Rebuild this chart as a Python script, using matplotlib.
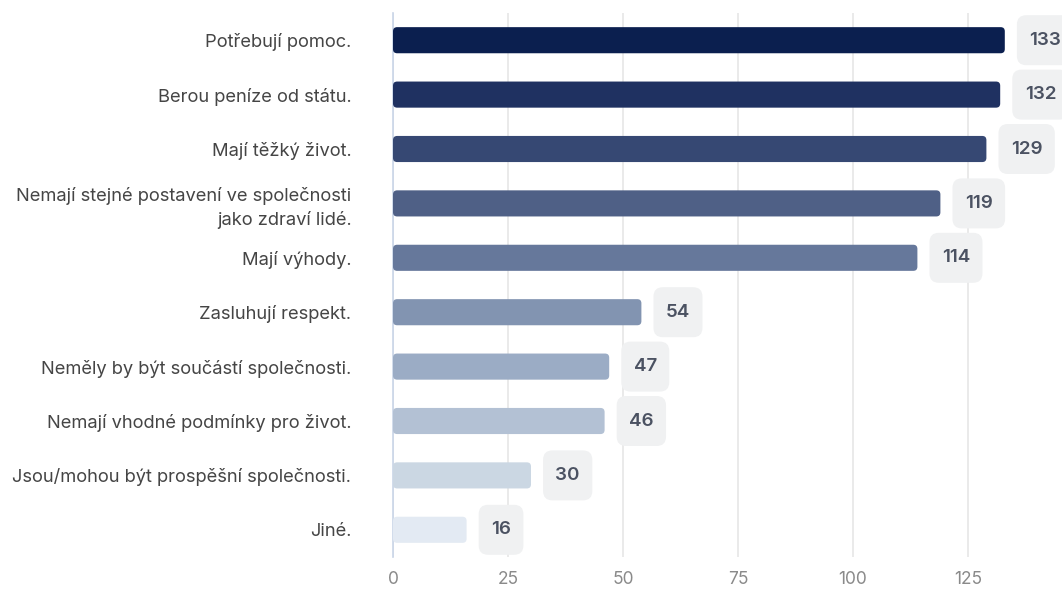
import matplotlib
matplotlib.use("Agg")
import matplotlib.pyplot as plt
from matplotlib.patches import FancyBboxPatch, BoxStyle

labels = [
    "Potřebují pomoc.",
    "Berou peníze od státu.",
    "Mají těžký život.",
    "Nemají stejné postavení ve společnosti\njako zdraví lidé.",
    "Mají výhody.",
    "Zasluhují respekt.",
    "Neměly by být součástí společnosti.",
    "Nemají vhodné podmínky pro život.",
    "Jsou/mohou být prospěšní společnosti.",
    "Jiné.",
]
counts = [133, 132, 129, 119, 114, 54, 47, 46, 30, 16]
colors = ["#0b1f4f", "#1f3161", "#364873", "#4f6086", "#66789b",
          "#8294b1", "#9bacc5", "#b3c1d4", "#cbd7e3", "#e3eaf3"]
xticks = [0, 25, 50, 75, 100, 125]

plt.rcParams["font.family"] = ["Inter", "DejaVu Sans"]


def tag_box(x0, y0, width, height, mutation_size):
    # rounded label tag, more padding vertically than horizontally
    px, py = 0.66 * mutation_size, 0.88 * mutation_size
    return BoxStyle.Round(pad=0, rounding_size=0.5)(
        x0 - px, y0 - py, width + 2 * px, height + 2 * py, mutation_size)


fig = plt.figure(figsize=(10.62, 5.89), dpi=100)
ax = fig.add_axes([393 / 1062, 32 / 589, 669 / 1062, 544 / 589])
ax.set_xlim(0, 669 / 4.6)
ax.set_ylim(len(labels) - 0.5, -0.5)

bar_h = 0.48
# px per data unit: 4.6 in x, 54.4 in y
aspect = 4.6 / 54.4
for i, (v, c) in enumerate(zip(counts, colors)):
    ax.add_patch(FancyBboxPatch((0, i - bar_h / 2), v, bar_h,
                                boxstyle="round,pad=0,rounding_size=0.9",
                                mutation_aspect=aspect, fc=c, ec="none", zorder=3))
    ax.annotate(str(v), (v, i), xytext=(17.6, 0), textcoords="offset points",
                ha="left", va="center", fontsize=13.5, fontweight="semibold",
                color="#4b5262", annotation_clip=False, zorder=4,
                bbox=dict(boxstyle=tag_box, fc="#f0f1f2", ec="none"))

ax.set_yticks(range(len(labels)))
ax.set_yticklabels(labels, fontsize=13.2, color="#454545", ha="right",
                   linespacing=1.4)
ax.tick_params(axis="y", length=0, pad=30)
ax.set_xticks(xticks)
ax.set_xticklabels([str(t) for t in xticks], fontsize=12.5, color="#8a8a8a")
ax.tick_params(axis="x", length=0, pad=10)

ax.grid(axis="x", color="#e6e6e6", linewidth=1.2, zorder=0)
ax.set_axisbelow(True)
for s in ("top", "right", "bottom"):
    ax.spines[s].set_visible(False)
ax.spines["left"].set_color("#c9d5e8")
ax.spines["left"].set_linewidth(1.2)

fig.savefig("out.png", dpi=100)
